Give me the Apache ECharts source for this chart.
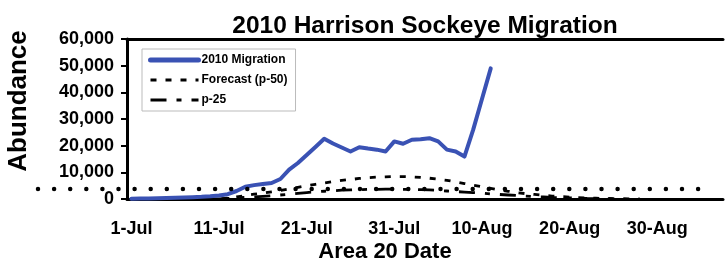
<!DOCTYPE html>
<html>
<head>
<meta charset="utf-8">
<script src="https://cdn.jsdelivr.net/npm/echarts@6/dist/echarts.min.js"></script>
<style>
  html, body { margin: 0; padding: 0; background: #fff; }
  #main { width: 725px; height: 263px; }
</style>
</head>
<body>
<div id="main"></div>
<script>
// day labels 1-Jul .. 6-Sep
var months = ['Jul', 'Aug', 'Sep'];
var monthDays = [31, 31, 6];
var dates = [];
for (var m = 0; m < months.length; m++) {
  for (var d = 1; d <= monthDays[m]; d++) dates.push(d + '-' + months[m]);
}

// values, one per day from 1-Jul
var migration = [100, 150, 200, 300, 400, 500, 600, 700, 800, 1000,
  1300, 1800, 3000, 4600, 5200, 5600, 6000, 7500, 11000, 13500,
  16500, 19500, 22600, 20800, 19300, 17800, 19400, 18900, 18500, 17800,
  21600, 20700, 22200, 22400, 22800, 21600, 18500, 17800, 15900, 26000,
  37500, 49000];
var forecastP50 = [0, 0, 0, 0, 0, 0, 0, 0, 0, 0,
  0, 300, 800, 1300, 1800, 2200, 2700, 3200, 3800, 4400,
  5000, 5500, 6000, 6500, 7000, 7300, 7700, 8000, 8200, 8300,
  8400, 8400, 8300, 8100, 7800, 7400, 7000, 6400, 5800, 5200,
  4600, 4000, 3400, 2900, 2400, 2000, 1700, 1400, 1100, 900,
  700, 550, 400, 300, 200, 150, 100, 50, 0];
var p25 = [0, 0, 0, 0, 0, 0, 0, 0, 0, 0,
  0, 200, 400, 600, 800, 1000, 1200, 1500, 1800, 2100,
  2400, 2700, 2900, 3100, 3300, 3400, 3500, 3600, 3600, 3700,
  3700, 3600, 3600, 3500, 3400, 3200, 3000, 2800, 2600, 2400,
  2200, 1900, 1700, 1500, 1300, 1100, 900, 800, 600, 500,
  400, 300, 200, 150, 100, 50, 0];
var targetLevel = 3750;
var yTicks = [0, 10000, 20000, 30000, 40000, 50000, 60000];

var font = "'Liberation Sans', Arial, sans-serif";
var blue = '#3a52b4';
var chart = echarts.init(document.getElementById('main'));

var option = {
  animation: false,
  textStyle: { fontFamily: font },
  title: {
    text: '2010 Harrison Sockeye Migration',
    left: 420,
    textAlign: 'center',
    top: 9,
    textStyle: { fontSize: 24.5, fontWeight: 'bold', color: '#000', fontFamily: font }
  },
  legend: {
    orient: 'vertical',
    left: 142,
    top: 49,
    padding: [5, 8, 5, 6],
    itemWidth: 48,
    itemHeight: 14,
    itemGap: 8,
    borderColor: '#bbb',
    borderWidth: 1,
    backgroundColor: '#fff',
    itemStyle: { opacity: 0 },
    textStyle: { fontSize: 12, fontWeight: 'bold', color: '#000', fontFamily: font, padding: [0, 0, 0, -2] },
    data: [
      { name: '2010 Migration', lineStyle: { width: 5 } },
      { name: 'Forecast (p-50)', lineStyle: { width: 2.8 } },
      { name: 'p-25', lineStyle: { width: 2.8 } }
    ]
  },
  grid: { left: 127, right: 2, top: 39, bottom: 64 },
  xAxis: [{
    type: 'category',
    data: dates,
    boundaryGap: true,
    axisLine: { lineStyle: { color: '#000', width: 3 } },
    axisTick: { interval: 9, length: 7, lineStyle: { color: '#000', width: 2 } },
    axisLabel: { interval: 9, margin: 21, fontSize: 18, fontWeight: 'bold', color: '#000', fontFamily: font },
    splitLine: { show: false }
  }, {
    type: 'category',
    data: dates,
    position: 'top',
    axisLine: { lineStyle: { color: '#000', width: 3 } },
    axisTick: { show: false },
    axisLabel: { show: false }
  }],
  yAxis: {
    type: 'value',
    min: yTicks[0],
    max: yTicks[yTicks.length - 1],
    interval: 10000,
    axisLine: { show: true, lineStyle: { color: '#000', width: 3 } },
    axisTick: { show: true, length: 6, lineStyle: { color: '#000', width: 2 } },
    axisLabel: {
      margin: 13, fontSize: 18, fontWeight: 'bold', color: '#000', fontFamily: font,
      formatter: function (v) { return v.toLocaleString('en-US'); }
    },
    splitLine: { show: false }
  },
  series: [{
    name: 'Forecast (p-50)',
    type: 'line',
    data: forecastP50,
    symbol: 'none',
    lineStyle: { color: '#000', width: 2.8, type: [6, 9] },
    itemStyle: { color: '#000' }
  }, {
    name: 'p-25',
    type: 'line',
    data: p25,
    symbol: 'none',
    lineStyle: { color: '#000', width: 2.8, type: [16, 10, 5, 10] },
    itemStyle: { color: '#000' }
  }, {
    name: '2010 Migration',
    type: 'line',
    data: migration,
    symbol: 'none',
    lineStyle: { color: blue, width: 4, cap: 'round', join: 'round' },
    itemStyle: { color: blue }
  }]
};
chart.setOption(option);

// axis titles and the dotted reference level that runs past the plot on both sides
var yLevel = chart.convertToPixel({ yAxisIndex: 0 }, targetLevel);
chart.setOption({
  graphic: [{
    type: 'text',
    x: 19, y: 101, rotation: Math.PI / 2,
    style: { text: 'Abundance', font: 'bold 26px ' + font, fill: '#000', align: 'center', verticalAlign: 'middle' }
  }, {
    type: 'text',
    x: 385, y: 252,
    style: { text: 'Area 20 Date', font: 'bold 22px ' + font, fill: '#000', align: 'center', verticalAlign: 'middle' }
  }, {
    type: 'line',
    z: 100,
    shape: { x1: 38, y1: yLevel, x2: 712, y2: yLevel },
    style: { stroke: '#000', lineWidth: 4.5, lineDash: [0, 16.1], lineCap: 'round' }
  }]
});
</script>
</body>
</html>
